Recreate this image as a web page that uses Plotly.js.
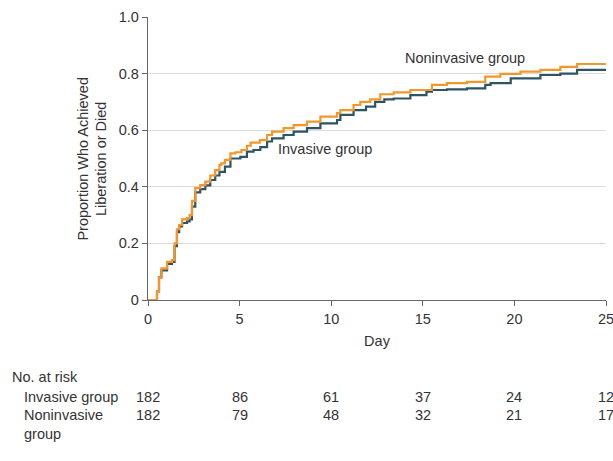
<!DOCTYPE html>
<html>
<head>
<meta charset="utf-8">
<script src="https://cdn.plot.ly/plotly-3.0.1.min.js"></script>
<style>html,body{margin:0;padding:0;background:#fff}#chart{width:613px;height:461px}</style>
</head>
<body>
<div id="chart"></div>
<script>
// Invasive group (dark teal)
const invasiveDays = [0, 0.49, 0.6, 0.73, 1.04, 1.31, 1.45, 1.58, 1.7, 1.86, 2.13, 2.27, 2.4, 2.58, 2.85, 3.13, 3.4, 3.67, 3.9, 4.2, 4.5, 5.04, 5.4, 5.76, 6.13, 6.5, 6.77, 7.4, 7.95, 8.68, 9.41, 10.32, 10.5, 11.22, 11.9, 12.4, 12.9, 13.41, 14.32, 15.2, 15.5, 16.32, 17.41, 18.41, 18.7, 19.8, 21.42, 22.51, 23.42, 25];
const invasiveProp = [0, 0.03, 0.08, 0.105, 0.128, 0.135, 0.19, 0.24, 0.26, 0.272, 0.278, 0.285, 0.33, 0.38, 0.392, 0.405, 0.424, 0.44, 0.453, 0.471, 0.50, 0.506, 0.524, 0.53, 0.54, 0.56, 0.571, 0.583, 0.595, 0.607, 0.624, 0.636, 0.654, 0.671, 0.683, 0.70, 0.709, 0.712, 0.724, 0.736, 0.742, 0.744, 0.748, 0.760, 0.766, 0.783, 0.795, 0.80, 0.813, 0.813];

// Noninvasive group (orange)
const noninvasiveDays = [0, 0.49, 0.6, 0.73, 1.04, 1.31, 1.45, 1.58, 1.7, 1.86, 2.13, 2.27, 2.4, 2.58, 2.85, 3.13, 3.4, 3.67, 3.9, 4.0, 4.2, 4.5, 4.77, 5.1, 5.4, 5.6, 6.1, 6.5, 6.77, 7.4, 7.95, 8.68, 9.41, 10.32, 10.5, 11.22, 11.59, 12.13, 12.68, 13.41, 14.32, 15.5, 16.32, 17.41, 18.41, 19.23, 20.33, 21.42, 22.51, 23.42, 25];
const noninvasiveProp = [0, 0.03, 0.08, 0.112, 0.135, 0.141, 0.20, 0.25, 0.265, 0.285, 0.289, 0.30, 0.35, 0.395, 0.406, 0.418, 0.44, 0.459, 0.477, 0.483, 0.495, 0.518, 0.522, 0.53, 0.545, 0.556, 0.565, 0.583, 0.595, 0.607, 0.618, 0.63, 0.648, 0.66, 0.671, 0.689, 0.70, 0.709, 0.727, 0.734, 0.742, 0.76, 0.766, 0.771, 0.789, 0.799, 0.807, 0.813, 0.824, 0.834, 0.834];

// Number at risk table
const riskDays = [0, 5, 10, 15, 20, 25];
const riskInvasive = [182, 86, 61, 37, 24, 12];
const riskNoninvasive = [182, 79, 48, 32, 21, 17];

const xTickVals = [0, 5, 10, 15, 20, 25];
const yTickVals = [0, 0.2, 0.4, 0.6, 0.8, 1.0];
const yTickText = ['0', '0.2', '0.4', '0.6', '0.8', '1.0'];

const FONT = 'Liberation Sans, Arial, sans-serif';
const FS = 14.5;
const TXT = '#333333';
const ORANGE = '#f5962a';
const TEAL = '#2c5464';

const traces = [
  {x: invasiveDays, y: invasiveProp, type: 'scatter', mode: 'lines', line: {shape: 'hv', color: TEAL, width: 2.2}, name: 'Invasive group', cliponaxis: false},
  {x: noninvasiveDays, y: noninvasiveProp, type: 'scatter', mode: 'lines', line: {shape: 'hv', color: ORANGE, width: 2.2}, name: 'Noninvasive group', cliponaxis: false}
];

const rowY = [-0.343, -0.406];
const annotations = [
  {text: 'Noninvasive group', x: 17.3, y: 0.855, xref: 'x', yref: 'y', showarrow: false, xanchor: 'center', yanchor: 'middle', font: {family: FONT, size: FS, color: TXT}},
  {text: 'Invasive group', x: 7.0, y: 0.534, xref: 'x', yref: 'y', showarrow: false, xanchor: 'left', yanchor: 'middle', font: {family: FONT, size: FS, color: TXT}},
  {text: 'Proportion Who Achieved<br>Liberation or Died', x: -0.122, y: 0.5, xref: 'paper', yref: 'paper', textangle: -90, showarrow: false, xanchor: 'center', yanchor: 'middle', font: {family: FONT, size: FS, color: TXT}},
  {text: 'No. at risk', x: -0.3015, y: -0.272, xref: 'paper', yref: 'paper', showarrow: false, xanchor: 'left', yanchor: 'middle', font: {family: FONT, size: FS, color: TXT}},
  {text: 'Invasive group', x: -0.275, y: rowY[0], xref: 'paper', yref: 'paper', showarrow: false, xanchor: 'left', yanchor: 'middle', font: {family: FONT, size: FS, color: TXT}},
  {text: 'Noninvasive<br>group', x: -0.275, y: rowY[1], xref: 'paper', yref: 'paper', showarrow: false, xanchor: 'left', yanchor: 'top', yshift: 10, align: 'left', font: {family: FONT, size: FS, color: TXT}}
];
riskDays.forEach((d, i) => {
  annotations.push({text: String(riskInvasive[i]), x: d, y: rowY[0], xref: 'x', yref: 'paper', showarrow: false, xanchor: 'center', yanchor: 'middle', font: {family: FONT, size: FS, color: TXT}});
  annotations.push({text: String(riskNoninvasive[i]), x: d, y: rowY[1], xref: 'x', yref: 'paper', showarrow: false, xanchor: 'center', yanchor: 'middle', font: {family: FONT, size: FS, color: TXT}});
});

const layout = {
  width: 613, height: 461,
  margin: {l: 148, r: 7, t: 17, b: 161, pad: 0},
  paper_bgcolor: '#fff', plot_bgcolor: '#fff',
  showlegend: false,
  font: {family: FONT, size: FS, color: TXT},
  xaxis: {
    range: [0, 25], tickvals: xTickVals, ticks: 'outside', ticklen: 5, tickcolor: '#666',
    showline: true, linecolor: '#666', linewidth: 1.3, showgrid: false, zeroline: false,
    ticklabeloverflow: 'allow',
    title: {text: 'Day', standoff: 10, font: {family: FONT, size: FS, color: TXT}},
    tickfont: {family: FONT, size: FS, color: TXT}, automargin: false
  },
  yaxis: {
    range: [0, 1], tickvals: yTickVals, ticktext: yTickText, ticks: 'outside', ticklen: 5, tickcolor: '#666',
    showline: true, linecolor: '#666', linewidth: 1.3, showgrid: true, gridcolor: '#dcdcdc', gridwidth: 1, zeroline: false,
    ticklabeloverflow: 'allow',
    tickfont: {family: FONT, size: FS, color: TXT}, automargin: false
  },
  annotations: annotations
};

Plotly.newPlot('chart', traces, layout, {displayModeBar: false, staticPlot: true});
</script>
</body>
</html>
